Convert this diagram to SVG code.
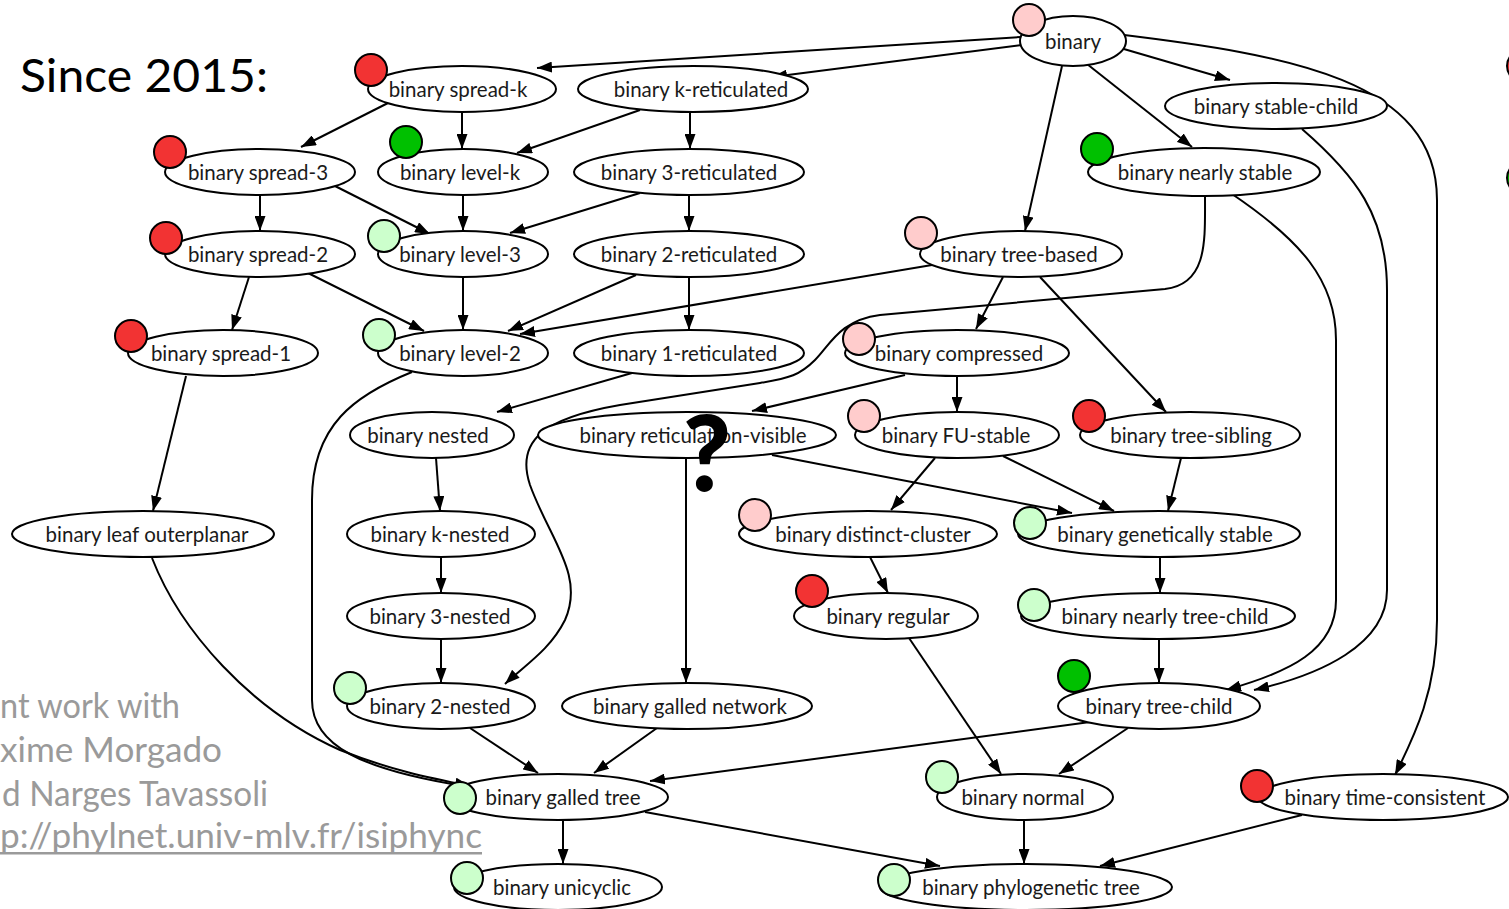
<svg xmlns="http://www.w3.org/2000/svg" width="1509" height="909" viewBox="0 0 1509 909">
  <style>
    .n ellipse { fill: #fff; stroke: #000; stroke-width: 2; }
    .n text { font-family: Lato, "Liberation Sans", sans-serif; font-size: 20.5px; fill: #1a1a1a; text-anchor: middle; }
    .dot { stroke: #000; stroke-width: 2; }
    .red { fill: #f23333; }
    .green { fill: #00c000; }
    .lgreen { fill: #ccffcc; }
    .pink { fill: #ffcccc; }
    #edges path { fill: none; stroke: #000; stroke-width: 2; marker-end: url(#arr); }
    .note { font-family: Lato, "Liberation Sans", sans-serif; font-size: 34px; fill: #9a9a9a; }
  </style>
  <defs>
    <marker id="arr" viewBox="0 0 15 11" refX="15" refY="5.5" markerWidth="15" markerHeight="11" markerUnits="userSpaceOnUse" orient="auto">
      <path d="M0,0 L15,5.5 L0,11 z" fill="#000"/>
    </marker>
  </defs>
  <rect width="1509" height="909" fill="#fff"/>

  <!-- heading and credits -->
  <text x="20" y="92" font-family="Lato, 'Liberation Sans', sans-serif" font-size="47" fill="#000" textLength="248" lengthAdjust="spacingAndGlyphs">Since 2015:</text>
  <text class="note" x="0" y="718" textLength="180" lengthAdjust="spacingAndGlyphs">nt work with</text>
  <text class="note" x="0" y="762" textLength="222" lengthAdjust="spacingAndGlyphs">xime Morgado</text>
  <text class="note" x="2" y="806" textLength="266" lengthAdjust="spacingAndGlyphs">d Narges Tavassoli</text>
  <text class="note" x="0" y="848" textLength="482" lengthAdjust="spacingAndGlyphs">p://phylnet.univ-mlv.fr/isiphync</text>
  <rect x="0" y="852" width="482" height="2.5" fill="#9a9a9a"/>

  <!-- partial markers at the right margin -->
  <circle class="dot red" cx="1523" cy="66" r="16"/>
  <circle class="dot green" cx="1523" cy="178" r="16"/>

  <g id="edges">
    <path d="M1020,37 L537,68"/>
    <path d="M1022,45 L772,77"/>
    <path d="M1117,47 L1230,80"/>
    <path d="M1087,64 L1192,147"/>
    <path d="M1062,66 L1025,231"/>
    <path d="M1116,34 C1290,55 1437,80 1437,200 L1437,620 C1437,690 1415,735 1395,775"/>
    <path d="M388,103 L301,147"/>
    <path d="M462,112 L462,149"/>
    <path d="M640,110 L517,153"/>
    <path d="M690,112 L690,149"/>
    <path d="M260,195 L260,231"/>
    <path d="M335,186 L430,234"/>
    <path d="M463,195 L463,231"/>
    <path d="M640,193 L510,233"/>
    <path d="M689,195 L689,231"/>
    <path d="M249,277 L232,330"/>
    <path d="M308,273 L424,331"/>
    <path d="M463,277 L463,330"/>
    <path d="M636,275 L508,331"/>
    <path d="M932,265 L520,334"/>
    <path d="M689,277 L689,330"/>
    <path d="M1003,277 L976,329"/>
    <path d="M1040,277 L1166,412"/>
    <path d="M1205,196 C1205,240 1208,284 1165,289 L880,315 C840,320 830,345 815,360 C800,375 790,378 760,383 L620,405 C545,418 515,440 530,485 C550,540 585,575 565,620 C550,650 525,665 505,684"/>
    <path d="M1232,194 C1300,240 1336,280 1336,340 L1336,600 C1336,650 1290,672 1226,690"/>
    <path d="M1302,129 C1355,175 1387,215 1387,290 L1387,590 C1387,645 1320,675 1254,690"/>
    <path d="M186,376 L153,511"/>
    <path d="M412,372 C355,395 312,425 312,500 L312,700 C312,745 360,770 470,787"/>
    <path d="M152,558 C180,630 250,710 340,750 C390,770 430,778 470,786"/>
    <path d="M632,373 L497,412"/>
    <path d="M905,375 L752,411"/>
    <path d="M957,376 L957,412"/>
    <path d="M436,458 L440,511"/>
    <path d="M686,458 L686,683"/>
    <path d="M772,455 L1072,513"/>
    <path d="M935,458 L891,510"/>
    <path d="M1003,456 L1114,511"/>
    <path d="M1181,458 L1168,511"/>
    <path d="M441,557 L441,593"/>
    <path d="M870,557 L888,593"/>
    <path d="M1160,557 L1160,593"/>
    <path d="M441,639 L441,683"/>
    <path d="M1159,639 L1159,683"/>
    <path d="M909,638 L1001,774"/>
    <path d="M470,728 L538,773"/>
    <path d="M657,728 L594,773"/>
    <path d="M1090,722 L650,781"/>
    <path d="M1128,728 L1059,774"/>
    <path d="M563,820 L563,864"/>
    <path d="M645,812 L940,866"/>
    <path d="M1024,820 L1024,864"/>
    <path d="M1302,815 L1100,866"/>
  </g>

  <g id="binary" class="n"><ellipse cx="1073" cy="41" rx="53" ry="25"/><text x="1073" y="49">binary</text><circle class="dot pink" cx="1029" cy="20" r="16"/></g>
  <g id="spread-k" class="n"><ellipse cx="462" cy="89" rx="94" ry="23"/><text x="458" y="97">binary spread-k</text><circle class="dot red" cx="371" cy="70" r="16"/></g>
  <g id="k-reticulated" class="n"><ellipse cx="693" cy="89" rx="115" ry="23"/><text x="701" y="97">binary k-reticulated</text></g>
  <g id="stable-child" class="n"><ellipse cx="1276" cy="106" rx="111" ry="23"/><text x="1276" y="114">binary stable-child</text></g>
  <g id="spread-3" class="n"><ellipse cx="260" cy="172" rx="95" ry="23"/><text x="258" y="180">binary spread-3</text><circle class="dot red" cx="170" cy="152" r="16"/></g>
  <g id="level-k" class="n"><ellipse cx="463" cy="172" rx="85" ry="23"/><text x="460" y="180">binary level-k</text><circle class="dot green" cx="406" cy="142" r="16"/></g>
  <g id="reticulated-3" class="n"><ellipse cx="689" cy="172" rx="115" ry="23"/><text x="689" y="180">binary 3-reticulated</text></g>
  <g id="nearly-stable" class="n"><ellipse cx="1204" cy="172" rx="116" ry="24"/><text x="1205" y="180">binary nearly stable</text><circle class="dot green" cx="1097" cy="149" r="16"/></g>
  <g id="spread-2" class="n"><ellipse cx="260" cy="254" rx="95" ry="23"/><text x="258" y="262">binary spread-2</text><circle class="dot red" cx="166" cy="238" r="16"/></g>
  <g id="level-3" class="n"><ellipse cx="463" cy="254" rx="85" ry="23"/><text x="460" y="262">binary level-3</text><circle class="dot lgreen" cx="384" cy="236" r="16"/></g>
  <g id="reticulated-2" class="n"><ellipse cx="689" cy="254" rx="115" ry="23"/><text x="689" y="262">binary 2-reticulated</text></g>
  <g id="tree-based" class="n"><ellipse cx="1021" cy="254" rx="101" ry="23"/><text x="1019" y="262">binary tree-based</text><circle class="dot pink" cx="921" cy="233" r="16"/></g>
  <g id="spread-1" class="n"><ellipse cx="223" cy="353" rx="95" ry="23"/><text x="221" y="361">binary spread-1</text><circle class="dot red" cx="131" cy="336" r="16"/></g>
  <g id="level-2" class="n"><ellipse cx="463" cy="353" rx="85" ry="23"/><text x="460" y="361">binary level-2</text><circle class="dot lgreen" cx="379" cy="335" r="16"/></g>
  <g id="reticulated-1" class="n"><ellipse cx="689" cy="353" rx="115" ry="23"/><text x="689" y="361">binary 1-reticulated</text></g>
  <g id="compressed" class="n"><ellipse cx="957" cy="353" rx="112" ry="23"/><text x="959" y="361">binary compressed</text><circle class="dot pink" cx="859" cy="339" r="16"/></g>
  <g id="nested" class="n"><ellipse cx="432" cy="435" rx="82" ry="23"/><text x="428" y="443">binary nested</text></g>
  <g id="reticulation-visible" class="n"><ellipse cx="687" cy="435" rx="149" ry="23"/><text x="693" y="443">binary reticulation-visible</text></g>
  <g id="fu-stable" class="n"><ellipse cx="957" cy="435" rx="102" ry="23"/><text x="956" y="443">binary FU-stable</text><circle class="dot pink" cx="864" cy="416" r="16"/></g>
  <g id="tree-sibling" class="n"><ellipse cx="1190" cy="435" rx="110" ry="23"/><text x="1191" y="443">binary tree-sibling</text><circle class="dot red" cx="1089" cy="416" r="16"/></g>
  <g id="leaf-outerplanar" class="n"><ellipse cx="143" cy="534" rx="131" ry="23"/><text x="147" y="542">binary leaf outerplanar</text></g>
  <g id="k-nested" class="n"><ellipse cx="441" cy="534" rx="94" ry="23"/><text x="440" y="542">binary k-nested</text></g>
  <g id="distinct-cluster" class="n"><ellipse cx="868" cy="534" rx="129" ry="23"/><text x="873" y="542">binary distinct-cluster</text><circle class="dot pink" cx="755" cy="515" r="16"/></g>
  <g id="genetically-stable" class="n"><ellipse cx="1159" cy="534" rx="141" ry="23"/><text x="1165" y="542">binary genetically stable</text><circle class="dot lgreen" cx="1030" cy="523" r="16"/></g>
  <g id="regular" class="n"><ellipse cx="886" cy="616" rx="92" ry="23"/><text x="888" y="624">binary regular</text><circle class="dot red" cx="812" cy="591" r="16"/></g>
  <g id="nested-3" class="n"><ellipse cx="441" cy="616" rx="94" ry="23"/><text x="440" y="624">binary 3-nested</text></g>
  <g id="nearly-tree-child" class="n"><ellipse cx="1158" cy="616" rx="137" ry="23"/><text x="1165" y="624">binary nearly tree-child</text><circle class="dot lgreen" cx="1034" cy="605" r="16"/></g>
  <g id="nested-2" class="n"><ellipse cx="441" cy="706" rx="94" ry="23"/><text x="440" y="714">binary 2-nested</text><circle class="dot lgreen" cx="350" cy="688" r="16"/></g>
  <g id="galled-network" class="n"><ellipse cx="687" cy="706" rx="125" ry="23"/><text x="690" y="714">binary galled network</text></g>
  <g id="tree-child" class="n"><ellipse cx="1159" cy="706" rx="101" ry="23"/><text x="1159" y="714">binary tree-child</text><circle class="dot green" cx="1074" cy="676" r="16"/></g>
  <g id="galled-tree" class="n"><ellipse cx="558" cy="797" rx="110" ry="23"/><text x="563" y="805">binary galled tree</text><circle class="dot lgreen" cx="460" cy="798" r="16"/></g>
  <g id="normal" class="n"><ellipse cx="1025" cy="797" rx="88" ry="23"/><text x="1023" y="805">binary normal</text><circle class="dot lgreen" cx="942" cy="777" r="16"/></g>
  <g id="time-consistent" class="n"><ellipse cx="1383" cy="797" rx="125" ry="23"/><text x="1385" y="805">binary time-consistent</text><circle class="dot red" cx="1257" cy="786" r="16"/></g>
  <g id="unicyclic" class="n"><ellipse cx="558" cy="887" rx="104" ry="23"/><text x="562" y="895">binary unicyclic</text><circle class="dot lgreen" cx="467" cy="878" r="16"/></g>
  <g id="phylogenetic-tree" class="n"><ellipse cx="1026" cy="887" rx="146" ry="23"/><text x="1031" y="895">binary phylogenetic tree</text><circle class="dot lgreen" cx="894" cy="880" r="16"/></g>

  <!-- open question over the reticulation-visible class -->
  <text x="707" y="491" font-family="Lato, 'Liberation Sans', sans-serif" font-size="104" font-weight="900" fill="#000" text-anchor="middle">?</text>
</svg>
